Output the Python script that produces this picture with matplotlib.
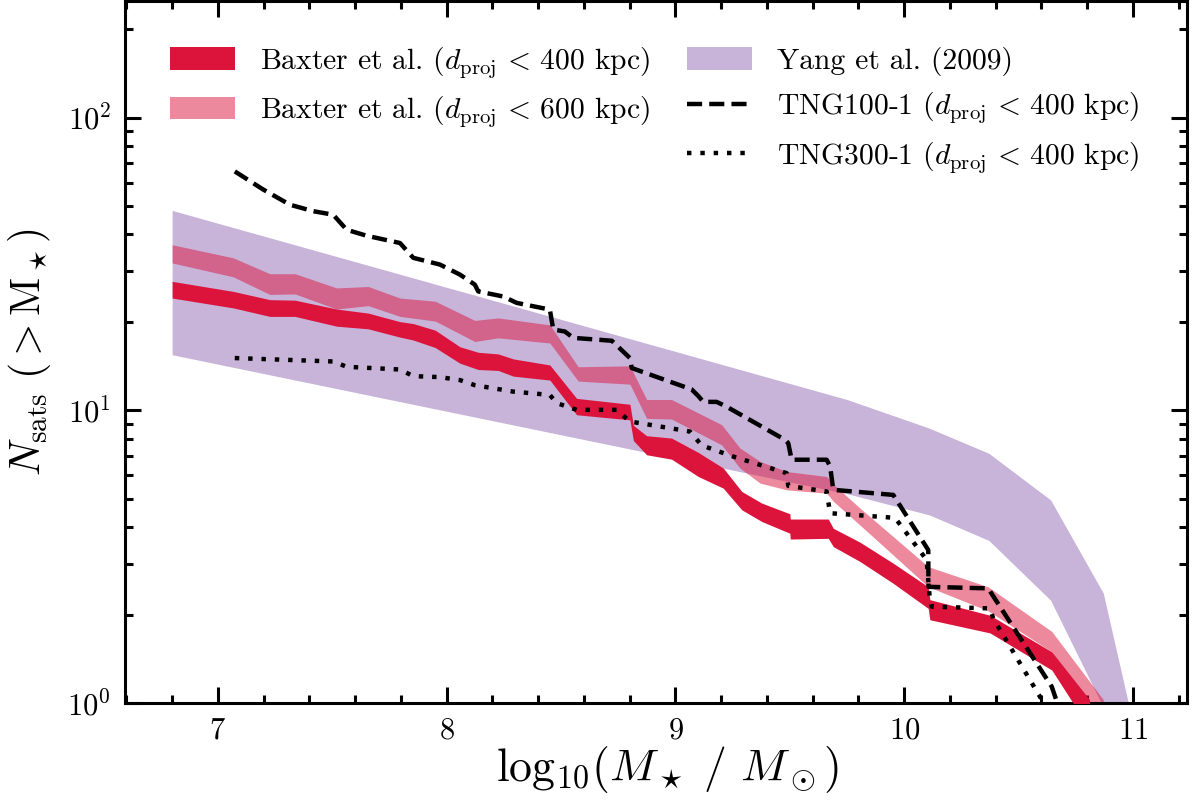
import numpy as np
import matplotlib
matplotlib.use('Agg')
import matplotlib.pyplot as plt
from matplotlib.patches import Patch
from matplotlib.lines import Line2D
from matplotlib.ticker import MultipleLocator, LogLocator, NullFormatter

plt.rcParams['font.family'] = 'serif'
plt.rcParams['font.serif'] = ['cmr10']
plt.rcParams['mathtext.fontset'] = 'cm'
plt.rcParams['axes.unicode_minus'] = False
plt.rcParams['axes.formatter.use_mathtext'] = True

# ---------------- data ----------------
# Yang et al. (2009) band
yang_x = [6.80, 9.75, 10.11, 10.37, 10.64, 10.87, 10.98]
yang_hi = [48.2, 10.9, 8.7, 7.14, 4.95, 2.38, 1.0]
yang_lo = [15.5, 5.2, 4.4, 3.6, 2.25, 0.97, 0.5]

# Baxter et al. (d_proj < 400 kpc)
b400_x = [6.80, 7.067, 7.227, 7.337, 7.519, 7.657, 7.796, 7.854, 7.95, 8.058, 8.138,
          8.225, 8.291, 8.451, 8.568, 8.801, 8.816, 8.874, 8.983, 9.100, 9.209, 9.290,
          9.377, 9.500, 9.502, 9.668, 9.690, 9.807, 9.952, 10.105, 10.112, 10.375,
          10.645, 10.81]
b400_hi = [27.6, 25.5, 23.9, 23.8, 22.2, 21.5, 20.1, 19.8, 18.8, 16.5, 15.8,
           15.6, 15.0, 14.3, 11.0, 10.5, 8.9, 8.2, 8.05, 7.19, 6.36, 5.29,
           4.83, 4.44, 4.26, 4.26, 3.96, 3.55, 3.01, 2.50, 2.26, 2.0,
           1.5, 1.03]
b400_lo = [24.2, 22.4, 20.95, 20.95, 19.4, 19.0, 17.8, 17.4, 16.4, 14.5, 13.8,
           13.7, 13.1, 12.7, 9.67, 9.29, 7.9, 7.06, 6.82, 5.95, 5.43, 4.58,
           4.18, 3.81, 3.64, 3.66, 3.43, 3.05, 2.57, 2.11, 1.93, 1.74,
           1.3, 0.82]

# Baxter et al. (d_proj < 600 kpc)
b600_x = [6.80, 7.067, 7.227, 7.337, 7.519, 7.657, 7.796, 7.95, 8.123, 8.225, 8.451,
          8.575, 8.801, 8.874, 8.983, 9.202, 9.282, 9.370, 9.486, 9.661, 9.690,
          9.807, 9.952, 10.105, 10.367, 10.645, 10.870]
b600_hi = [36.8, 33.2, 29.3, 29.3, 26.2, 26.5, 24.2, 23.6, 20.3, 20.7, 19.6,
           14.1, 14.2, 10.9, 10.9, 8.94, 7.44, 6.70, 6.19, 5.95, 5.6,
           4.64, 3.71, 2.93, 2.50, 1.76, 1.03]
b600_lo = [31.9, 28.6, 24.9, 25.0, 22.2, 22.8, 20.95, 20.2, 17.2, 17.7, 17.0,
           12.6, 12.3, 9.4, 9.35, 7.63, 6.36, 5.65, 5.36, 5.22, 4.9,
           4.06, 3.21, 2.50, 2.07, 1.5, 0.8]

# TNG100-1 (d_proj < 400 kpc)
tng100_x = [7.074, 7.198, 7.315, 7.417, 7.504, 7.563, 7.650, 7.796, 7.854, 7.970,
            8.058, 8.123, 8.138, 8.247, 8.306, 8.451, 8.466, 8.517, 8.553, 8.722,
            8.801, 8.809, 9.071, 9.100, 9.122, 9.180, 9.224, 9.479, 9.493, 9.508,
            9.661, 9.676, 9.690, 9.952, 10.105, 10.106, 10.367, 10.645, 10.70]
tng100_y = [65.5, 56.8, 50.4, 47.9, 46.6, 41.4, 39.5, 37.3, 33.2, 31.5,
            29.1, 26.9, 25.5, 24.5, 23.3, 22.1, 18.9, 18.6, 17.7, 17.3,
            15.1, 13.96, 11.8, 11.2, 10.7, 10.7, 10.3, 7.94, 7.74, 6.79,
            6.79, 6.44, 5.36, 5.15, 3.34, 2.50, 2.47, 1.14, 0.85]

# TNG300-1 (d_proj < 400 kpc)
tng300_x = [7.074, 7.504, 7.563, 7.796, 7.854, 7.970, 8.058, 8.123, 8.291, 8.451,
            8.481, 8.568, 8.743, 8.801, 9.063, 9.115, 9.253, 9.486, 9.493, 9.661,
            9.676, 9.96, 10.098, 10.112, 10.120, 10.375, 10.389, 10.601, 10.62]
tng300_y = [15.1, 14.7, 14.1, 13.8, 13.1, 13.0, 12.7, 12.2, 11.6, 11.3,
            10.6, 10.05, 10.05, 9.17, 8.48, 7.6, 6.96, 6.11, 5.53, 5.29,
            4.46, 4.3, 3.09, 2.26, 2.14, 2.11, 1.95, 1.03, 0.9]

# ---------------- styles ----------------
crimson = '#dc143c'
purple = '#c8b3d9'
lw_line = 3.2
dash_style = (0, (3.4, 1.6))
dot_style = (0, (1, 2.0))

fig = plt.figure(figsize=(11.99, 8.07), dpi=100)
ax = fig.add_axes([0.10425, 0.12838, 0.88574, 0.87038])

ax.fill_between(yang_x, yang_lo, yang_hi, color=purple, lw=0, zorder=1)
ax.fill_between(b600_x, b600_lo, b600_hi, color=crimson, alpha=0.5, lw=0, zorder=2)
ax.fill_between(b400_x, b400_lo, b400_hi, color=crimson, lw=0, zorder=3)
ax.plot(tng100_x, tng100_y, color='k', lw=lw_line, ls=dash_style, zorder=4)
ax.plot(tng300_x, tng300_y, color='k', lw=lw_line, ls=dot_style, zorder=4)

ax.set_yscale('log')
ax.set_xlim(6.594, 11.236)
ax.set_ylim(1, 250)

ax.xaxis.set_major_locator(MultipleLocator(1))
ax.xaxis.set_minor_locator(MultipleLocator(0.2))
ax.yaxis.set_major_locator(LogLocator(base=10, numticks=10))
ax.yaxis.set_minor_locator(LogLocator(base=10, subs=np.arange(2, 10), numticks=20))
ax.yaxis.set_minor_formatter(NullFormatter())

ax.tick_params(which='both', direction='in', top=True, right=True, width=2.2,
               labelsize=22)
ax.tick_params(which='major', length=11.5, pad=10)
ax.tick_params(which='minor', length=5.8)
for s in ax.spines.values():
    s.set_linewidth(2.2)

ax.set_xlabel(r'$\mathrm{log}_{10}(M_\star\ /\ M_\odot)$', fontsize=33, labelpad=5)
ax.xaxis.set_label_coords(0.511, -0.058)
ax.set_ylabel(r'$N_{\rm sats}\ (>\mathrm{M}_\star)$', fontsize=30, labelpad=10)

handles = [
    Patch(facecolor=crimson, edgecolor='none'),
    Patch(facecolor=crimson, alpha=0.5, edgecolor='none'),
    Patch(facecolor='none', edgecolor='none'),
    Patch(facecolor=purple, edgecolor='none'),
    Line2D([], [], color='k', lw=lw_line, ls=dash_style),
    Line2D([], [], color='k', lw=lw_line, ls=dot_style),
]
labels = [
    r'Baxter et al. ($d_{\rm proj}\,<\,400$ kpc)',
    r'Baxter et al. ($d_{\rm proj}\,<\,600$ kpc)',
    '',
    'Yang et al. (2009)',
    r'TNG100-1 ($d_{\rm proj}\,<\,400$ kpc)',
    r'TNG300-1 ($d_{\rm proj}\,<\,400$ kpc)',
]
fs = 21.3
ax.legend(handles, labels, ncol=2, frameon=False, fontsize=fs,
          loc='upper left', bbox_to_anchor=(170 / 1199, 1 - 45 / 807),
          bbox_transform=fig.transFigure, borderaxespad=0, borderpad=0,
          handlelength=46.8 / fs, handleheight=16.6 / fs,
          handletextpad=18.0 / fs, columnspacing=26.6 / fs,
          labelspacing=0.5)

fig.savefig('out.png', dpi=100)
